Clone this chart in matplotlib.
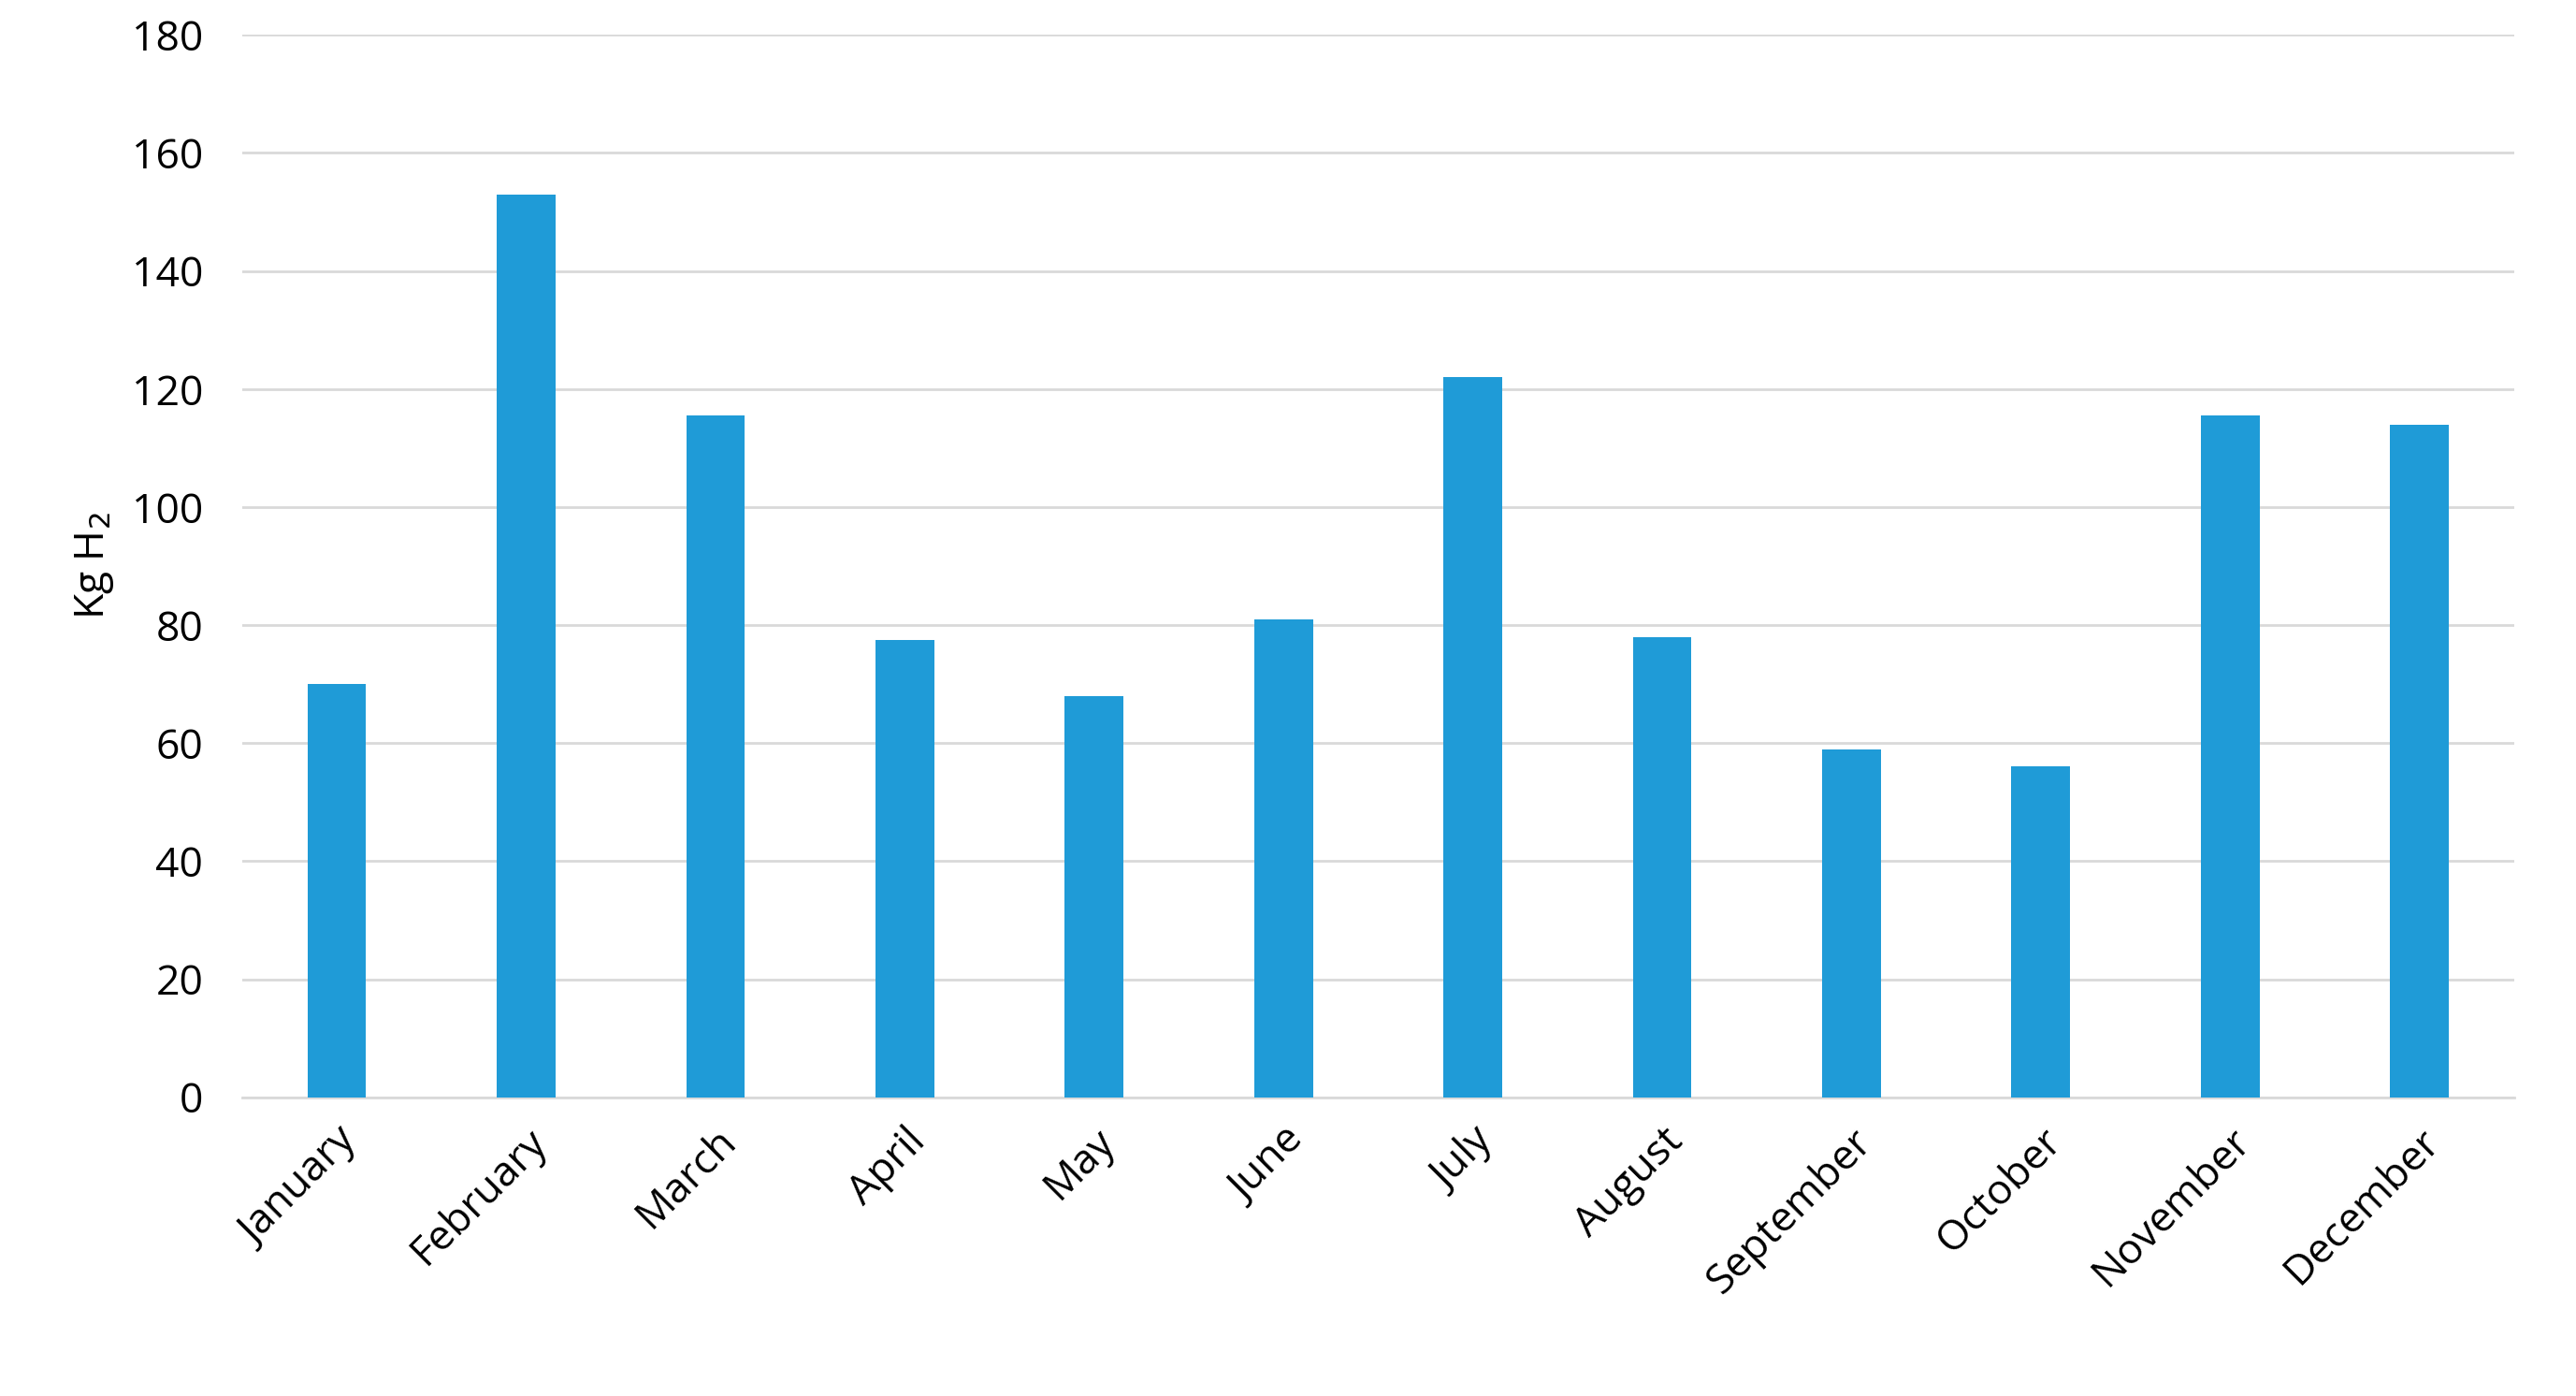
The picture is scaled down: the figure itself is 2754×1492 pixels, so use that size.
import matplotlib
matplotlib.use('Agg')
import matplotlib.pyplot as plt
import numpy as np

months = ['January', 'February', 'March', 'April', 'May', 'June', 'July',
          'August', 'September', 'October', 'November', 'December']
kg_h2 = [70, 153, 115.5, 77.5, 68, 81, 122, 78, 59, 56, 115.5, 114]
y_ticks = list(range(0, 181, 20))

plt.rcParams['font.family'] = ['Open Sans', 'DejaVu Sans']

fig = plt.figure(figsize=(27.54, 14.92), dpi=100)
ax = fig.add_axes([0.094, 0.214, 0.882, 0.761])

x = np.arange(len(months))
ax.bar(x, kg_h2, width=0.31, color='#1f9bd7', zorder=3)

ax.set_xlim(-0.5, len(months) - 0.5)
ax.set_ylim(0, 180)
ax.set_yticks(y_ticks)
ax.set_xticks(x)
ax.set_xticklabels(months, rotation=45, ha='right', rotation_mode='anchor')
ax.tick_params(axis='both', labelsize=32, length=0, colors='#000000')
ax.tick_params(axis='x', pad=18)
ax.tick_params(axis='y', pad=30)
ax.grid(axis='y', color='#d9d9d9', linewidth=2, zorder=0)
for side in ('top', 'right', 'left'):
    ax.spines[side].set_visible(False)
ax.spines['bottom'].set_color('#d9d9d9')
ax.spines['bottom'].set_linewidth(2)
ax.set_ylabel('Kg H$_2$', fontsize=32, labelpad=12)

fig.savefig('out.png', dpi=100)
